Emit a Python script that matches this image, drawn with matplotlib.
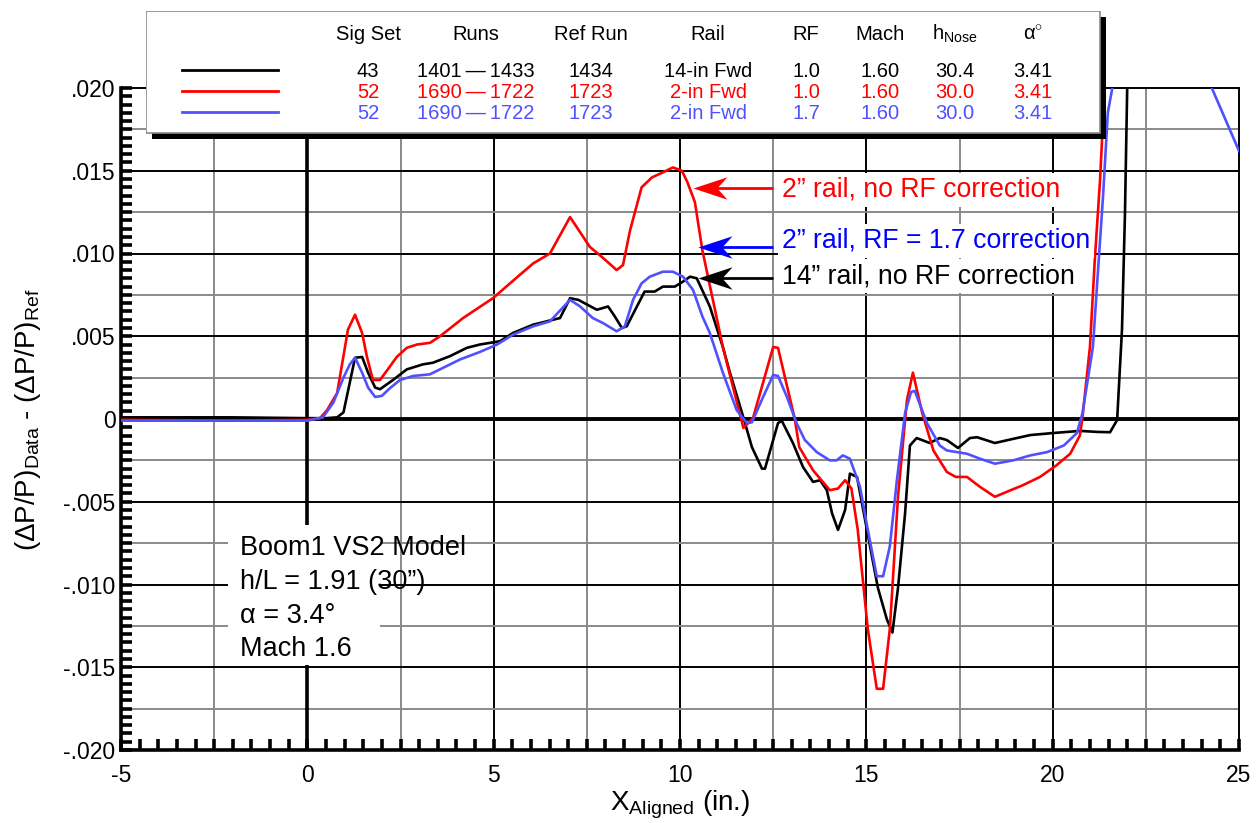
import numpy as np
import matplotlib.pyplot as plt
from matplotlib.patches import Rectangle
from matplotlib.path import Path
from matplotlib.ticker import MultipleLocator

plt.rcParams['font.family'] = ['Liberation Sans', 'DejaVu Sans']
plt.rcParams['mathtext.fontset'] = 'custom'
plt.rcParams['mathtext.rm'] = 'Liberation Sans'
plt.rcParams['mathtext.it'] = 'Liberation Sans:italic'
plt.rcParams['axes.unicode_minus'] = False

# --- data (y values in units of 1e-3) ---
x_black = [-5, -2, 0, 0.5, 0.8, 0.97, 1.28, 1.47, 1.63, 1.82, 1.95, 2.3, 2.67, 3.1, 3.37,
           3.83, 4.28, 4.63, 5.17, 5.52, 6.06, 6.78, 7.05, 7.27, 7.77, 8.07, 8.25, 8.44,
           8.57, 9.05, 9.32, 9.54, 9.86, 10.08, 10.27, 10.45, 10.8, 11.15, 11.34, 11.7,
           11.93, 12.2, 12.28, 12.63, 12.73, 13.03, 13.3, 13.57, 13.76, 13.94, 14.08,
           14.24, 14.43, 14.56, 14.75, 14.9, 15.1, 15.31, 15.55, 15.7, 15.85, 16.04,
           16.17, 16.35, 16.7, 16.97, 17.16, 17.46, 17.78, 17.97, 18.45, 18.94, 19.4,
           20.0, 20.73, 21.2, 21.54, 21.73, 21.86, 21.94, 22.0, 22.05]
y_black = [0.1, 0.1, 0.05, 0.05, 0.1, 0.4, 3.7, 3.75, 2.8, 1.9, 1.8, 2.36, 3.0, 3.3, 3.4,
           3.8, 4.3, 4.5, 4.7, 5.2, 5.7, 6.1, 7.3, 7.2, 6.6, 6.8, 6.2, 5.5,
           5.6, 7.7, 7.7, 8.0, 8.0, 8.3, 8.6, 8.5, 6.8, 4.35, 2.8, 0.1,
           -1.7, -3.0, -3.0, -0.25, -0.1, -1.45, -2.9, -3.8, -3.7, -4.3, -5.7,
           -6.7, -5.5, -3.3, -3.5, -5.3, -7.7, -10.2, -12.1, -12.9, -10.2, -5.7,
           -1.6, -1.15, -1.45, -1.15, -1.27, -1.75, -1.15, -1.1, -1.45, -1.2, -0.97,
           -0.85, -0.72, -0.78, -0.8, -0.06, 5.4, 12.4, 20.0, 25.0]

x_red = [-5, -2, 0, 0.34, 0.53, 0.8, 1.09, 1.28, 1.47, 1.6, 1.76, 1.95, 2.16, 2.4, 2.67,
         2.94, 3.29, 3.56, 4.18, 4.98, 5.44, 6.06, 6.51, 7.05, 7.58, 7.9, 8.3, 8.47,
         8.66, 8.97, 9.25, 9.54, 9.81, 10.05, 10.2, 10.4, 10.6, 11.15, 11.7, 11.96,
         12.33, 12.5, 12.63, 13.08, 13.2, 13.57, 14.02, 14.24, 14.43, 14.6, 14.77,
         15.04, 15.28, 15.45, 15.63, 15.85, 16.09, 16.25, 16.5, 16.8, 17.16, 17.4,
         17.7, 18.05, 18.45, 18.77, 19.2, 19.66, 20.1, 20.47, 20.73, 20.8, 21.0,
         21.13, 21.27, 21.35, 21.4, 21.45]
y_red = [-0.05, -0.1, -0.05, 0.05, 0.54, 1.57, 5.4, 6.3, 5.2, 3.75, 2.36, 2.36, 3.0, 3.75, 4.3,
         4.5, 4.6, 5.0, 6.1, 7.3, 8.2, 9.4, 10.0, 12.2, 10.4, 9.8, 9.0, 9.3,
         11.4, 14.0, 14.6, 14.9, 15.2, 15.0, 14.3, 13.1, 10.2, 4.35, -0.54, 0.06,
         3.0, 4.35, 4.3, 0.0, -1.7, -3.1, -4.3, -4.2, -3.7, -4.2, -6.7,
         -12.7, -16.3, -16.3, -12.7, -4.7, 1.15, 2.8, 0.36, -1.9, -3.2, -3.5,
         -3.5, -4.1, -4.7, -4.4, -4.0, -3.5, -2.8, -2.1, -1.0, 0.1, 4.35,
         9.6, 14.4, 18.0, 20.0, 25.0]

x_blue = [-5, 0, 0.42, 0.7, 0.97, 1.14, 1.28, 1.47, 1.63, 1.82, 2.0, 2.22, 2.49, 2.84,
          3.29, 3.56, 4.1, 4.63, 5.09, 5.52, 6.06, 6.51, 7.05, 7.32, 7.66, 7.93, 8.3,
          8.52, 8.74, 8.97, 9.19, 9.54, 9.81, 10.08, 10.35, 10.6, 10.8, 11.15, 11.52,
          11.8, 11.93, 12.23, 12.5, 12.63, 12.87, 13.13, 13.35, 13.67, 14.02, 14.2,
          14.37, 14.56, 14.83, 15.04, 15.28, 15.45, 15.63, 15.82, 16.04, 16.2, 16.3,
          16.63, 16.97, 17.16, 17.7, 18.05, 18.45, 18.94, 19.4, 19.85, 20.3, 20.65,
          20.8, 21.08, 21.2, 21.35, 21.48, 21.6, 22.9, 24.27, 25.0]
y_blue = [-0.1, -0.1, 0.1, 1.0, 2.5, 3.3, 3.7, 2.8, 1.9, 1.33, 1.4, 1.87, 2.36, 2.6,
          2.7, 3.0, 3.6, 4.05, 4.5, 5.1, 5.6, 5.9, 7.2, 6.8, 6.1, 5.8, 5.3,
          5.6, 7.2, 8.2, 8.6, 8.9, 8.9, 8.6, 7.8, 6.2, 5.2, 2.8, 0.54,
          -0.26, -0.2, 1.33, 2.66, 2.6, 1.33, -0.26, -1.27, -2.0, -2.5, -2.5,
          -2.2, -2.4, -4.1, -6.7, -9.5, -9.5, -7.7, -3.7, 0.36, 1.63, 1.7,
          -0.26, -1.6, -1.9, -2.1, -2.4, -2.7, -2.5, -2.2, -2.0, -1.6, -0.85,
          0.36, 4.35, 8.4, 13.4, 18.5, 20.0, 27.0, 20.0, 16.2]

series_colors = ['black', '#ff0000', '#5050ff']

# legend table
col_headers = ['Sig Set', 'Runs', 'Ref Run', 'Rail', 'RF', 'Mach',
               r'h$_{\mathrm{Nose}}$', '\u03b1$^{\\circ}$']
table_rows = [
    ['43', '1401\u2009\u2014\u20091433', '1434', '14-in Fwd', '1.0', '1.60', '30.4', '3.41'],
    ['52', '1690\u2009\u2014\u20091722', '1723', '2-in Fwd', '1.0', '1.60', '30.0', '3.41'],
    ['52', '1690\u2009\u2014\u20091722', '1723', '2-in Fwd', '1.7', '1.60', '30.0', '3.41'],
]

notes = ['2\u201d rail, no RF correction',
         '2\u201d rail, RF = 1.7 correction',
         '14\u201d rail, no RF correction']
note_colors = ['#ff0000', '#0000ff', 'black']
note_y = [0.01384, 0.01076, 0.00864]
arrow_tip = [(10.35, 0.01396), (10.48, 0.0104), (10.48, 0.00852)]

info_lines = ['Boom1 VS2 Model', 'h/L = 1.91 (30\u201d)', '\u03b1 = 3.4\u00b0', 'Mach 1.6']

ytick_vals = [0.02, 0.015, 0.01, 0.005, 0, -0.005, -0.01, -0.015, -0.02]
ytick_labels = ['.020', '.015', '.010', '.005', '0', '-.005', '-.010', '-.015', '-.020']
xtick_vals = [-5, 0, 5, 10, 15, 20, 25]

W, H = 1260, 823
fig = plt.figure(figsize=(W / 100, H / 100), dpi=100)


def frac(x0, y0, x1, y1):
    return [x0 / W, 1 - y1 / H, (x1 - x0) / W, (y1 - y0) / H]


ax = fig.add_axes(frac(121, 88, 1239, 750))
ax.set_xlim(-5, 25)
ax.set_ylim(-0.02, 0.02)

# grid
for gx in [-2.5, 2.5, 7.5, 12.5, 17.5, 22.5]:
    ax.axvline(gx, color='#8a8a8a', lw=1.4, zorder=1)
for gx in [5, 10, 15, 20]:
    ax.axvline(gx, color='black', lw=1.4, zorder=1)
for gy in [-0.0175, -0.0125, -0.0075, -0.0025, 0.0025, 0.0075, 0.0125, 0.0175]:
    ax.axhline(gy, color='#8a8a8a', lw=1.4, zorder=1)
for gy in [-0.015, -0.01, -0.005, 0.005, 0.01, 0.015]:
    ax.axhline(gy, color='black', lw=1.4, zorder=1)
ax.axvline(0, color='black', lw=2.6, zorder=1.5)
ax.axhline(0, color='black', lw=2.8, zorder=1.5)

for xs, ys, c in zip([x_black, x_red, x_blue], [y_black, y_red, y_blue], series_colors):
    ax.plot(xs, np.array(ys) * 1e-3, color=c, lw=1.9, zorder=3)

# ticks
ax.set_xticks(xtick_vals)
ax.set_yticks(ytick_vals)
ax.set_yticklabels(ytick_labels)
ax.xaxis.set_minor_locator(MultipleLocator(0.5))
ax.yaxis.set_minor_locator(MultipleLocator(0.0005))
ax.tick_params(which='both', direction='in', length=8, width=2.6,
               top=False, right=False, labelsize=16.5)
ax.tick_params(axis='x', pad=10)
ax.tick_params(axis='y', pad=4)
for side in ['left', 'bottom']:
    ax.spines[side].set_linewidth(2.6)
for side in ['top', 'right']:
    ax.spines[side].set_linewidth(1.4)

# annotations with arrows
head = Path([(0, 0), (1, 0.33), (0.7, 0), (1, -0.33), (0, 0)],
            [Path.MOVETO, Path.LINETO, Path.LINETO, Path.LINETO, Path.CLOSEPOLY])
for txt, c, ty, (tx, tyy) in zip(notes, note_colors, note_y, arrow_tip):
    ax.text(12.74, ty, txt, color=c, fontsize=19.2, ha='left', va='center', zorder=6,
            bbox=dict(boxstyle='square,pad=0.15', facecolor='white', edgecolor='none'))
    ax.plot([tx + 0.5, 12.5], [tyy, tyy], color=c, lw=2, zorder=5, solid_capstyle='butt')
    ax.plot([tx], [tyy], marker=head, ms=49, color=c, mew=0, zorder=5)

# info box
ax.add_patch(Rectangle((-2.13, -0.01486), 4.08, 0.00846, facecolor='white',
                       edgecolor='none', zorder=4))
for i, line in enumerate(info_lines):
    ax.text(-1.81, -0.00781 - i * 0.002036, line, fontsize=19.5, ha='left',
            va='center', zorder=6)

# axis labels
fig.text(680 / W, 1 - 805 / H, r'X$_{\mathrm{Aligned}}$ (in.)', fontsize=20,
         ha='center', va='center')
fig.text(28 / W, 1 - 420 / H,
         r'($\Delta$P/P)$_{\mathrm{Data}}$ - ($\Delta$P/P)$_{\mathrm{Ref}}$',
         fontsize=20, rotation=90, ha='center', va='center')

# legend table box
lg = fig.add_axes(frac(146, 11, 1106, 139), zorder=10)
lg.set_xlim(146, 1106)
lg.set_ylim(139, 11)
lg.axis('off')
lg.add_patch(Rectangle((152, 17), 954, 122, facecolor='black', edgecolor='none'))
lg.add_patch(Rectangle((146, 11), 954, 122, facecolor='white', edgecolor='#8a8a8a', lw=1.2))
col_x = [368, 476, 591, 708, 806, 880, 955, 1033]
for cx, hd in zip(col_x, col_headers):
    lg.text(cx, 40, hd, fontsize=14.5, ha='center', va='baseline')
for r, (row, c) in enumerate(zip(table_rows, series_colors)):
    yb = 77 + r * 21
    lg.plot([182, 278], [yb - 7, yb - 7], color=c, lw=2)
    for cx, val in zip(col_x, row):
        lg.text(cx, yb, val, fontsize=14.5, ha='center', va='baseline', color=c)

fig.savefig('out.png', dpi=100)
